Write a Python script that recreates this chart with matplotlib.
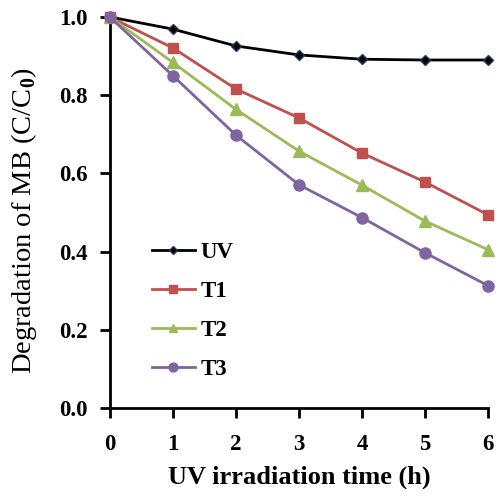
import matplotlib.pyplot as plt

plt.rcParams['font.family'] = ['Liberation Serif', 'DejaVu Serif']
plt.rcParams['mathtext.fontset'] = 'custom'
plt.rcParams['mathtext.rm'] = 'Liberation Serif'
plt.rcParams['mathtext.bf'] = 'Liberation Serif:bold'

hours = [0, 1, 2, 3, 4, 5, 6]
uv = [1.0, 0.969, 0.926, 0.903, 0.892, 0.890, 0.890]
t1 = [1.0, 0.921, 0.816, 0.742, 0.652, 0.578, 0.494]
t2 = [1.0, 0.884, 0.764, 0.657, 0.570, 0.478, 0.405]
t3 = [1.0, 0.850, 0.698, 0.571, 0.487, 0.397, 0.313]

fig = plt.figure(figsize=(4.99, 5.0), dpi=100)
ax = fig.add_axes([0.220, 0.184, 0.758, 0.782])

ax.plot(hours, uv, color='black', lw=2.0, marker='D', ms=5.5,
        mfc='black', mec='#1f3a60', label='UV', clip_on=False, zorder=3)
ax.plot(hours, t1, color='#C0504D', lw=2.0, marker='s', ms=6.5,
        label='T1', clip_on=False, zorder=3)
ax.plot(hours, t2, color='#9BBB59', lw=2.0, marker='^', ms=8,
        label='T2', clip_on=False, zorder=3)
ax.plot(hours, t3, color='#8064A2', lw=2.0, marker='o', ms=8,
        label='T3', clip_on=False, zorder=4)

ax.set_xlim(0, 6)
ax.set_ylim(0, 1.0)
ax.set_xticks(hours)
ax.set_yticks([0.0, 0.2, 0.4, 0.6, 0.8, 1.0])
ax.set_yticklabels(['0.0', '0.2', '0.4', '0.6', '0.8', '1.0'])

for s in ['top', 'right']:
    ax.spines[s].set_visible(False)
for s in ['left', 'bottom']:
    ax.spines[s].set_linewidth(2)

ax.tick_params(direction='out', length=7, width=2, labelsize=16.5)
ax.tick_params(axis='y', pad=9)
ax.tick_params(axis='x', pad=12)
for lab in ax.get_xticklabels() + ax.get_yticklabels():
    lab.set_fontweight('bold')

ax.set_xlabel('UV irradiation time (h)', fontsize=19, fontweight='bold', labelpad=7)
ax.set_ylabel('Degradation of MB (C/C$_\\mathbf{0}$)', fontsize=20.5)
ax.yaxis.set_label_coords(-0.186, 0.48)

leg = ax.legend(loc='upper left', bbox_to_anchor=(0.111, 0.425), frameon=False,
                borderpad=0, borderaxespad=0, markerscale=0.8,
                handlelength=1.87, handletextpad=0.25, labelspacing=0.78,
                prop={'size': 16.5, 'weight': 'bold'})

fig.savefig('out.png', dpi=100)
